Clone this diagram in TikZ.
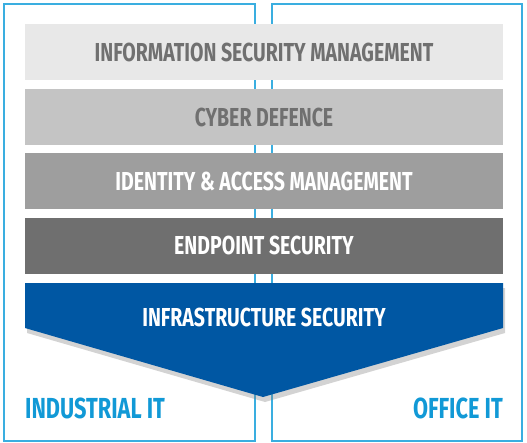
\documentclass[tikz,border=0pt]{standalone}
\usepackage{fontspec}
\newfontfamily\dinfont[FakeStretch=0.75]{Fira Sans}
\usetikzlibrary{shadows}
\definecolor{framecol}{HTML}{3AAEE0}
\definecolor{labelcol}{HTML}{1199D6}
\definecolor{infracol}{HTML}{0057A3}
\definecolor{barA}{HTML}{E8E8E8}
\definecolor{barB}{HTML}{C4C4C4}
\definecolor{barC}{HTML}{9E9E9E}
\definecolor{barD}{HTML}{6F6F6F}
\definecolor{greytext}{HTML}{707070}
\tikzset{
  bar/.style={minimum width=478pt, minimum height=56pt, inner sep=0pt,
    font=\dinfont\bfseries\fontsize{26}{26}\selectfont},
  side/.style={draw=framecol, line width=1.5pt},
  itlabel/.style={inner sep=0pt, text=labelcol,
    font=\dinfont\bfseries\fontsize{29}{29}\selectfont}
}
\begin{document}
\begin{tikzpicture}[x=1pt,y=-1pt]
  \useasboundingbox (0,0) rectangle (527,442);
  % the two columns
  \draw[side] (4,4) rectangle (255,441);
  \draw[side] (272,4) rectangle (522,441);
  % layers
  \node[bar, fill=barA, text=greytext] (ism) at (264,52) {INFORMATION SECURITY MANAGEMENT};
  \node[bar, fill=barB, text=greytext] (cd) at (264,117) {CYBER DEFENCE};
  \node[bar, fill=barC, text=white] (iam) at (264,181) {IDENTITY \& ACCESS MANAGEMENT};
  \node[bar, fill=barD, text=white] (eps) at (264,245.5) {ENDPOINT SECURITY};
  \fill[infracol, drop shadow={shadow xshift=2pt, shadow yshift=-5pt, opacity=0.35}]
    (25,283) -- (503,283) -- (503,328) -- (263,397) -- (25,328) -- cycle;
  \node[bar, minimum height=0pt, text=white] (is) at (264,317) {INFRASTRUCTURE SECURITY};
  % column labels
  \node[itlabel, anchor=west] (ind) at (25,408) {INDUSTRIAL IT};
  \node[itlabel, anchor=east] (off) at (503,408) {OFFICE IT};
\end{tikzpicture}
\end{document}
